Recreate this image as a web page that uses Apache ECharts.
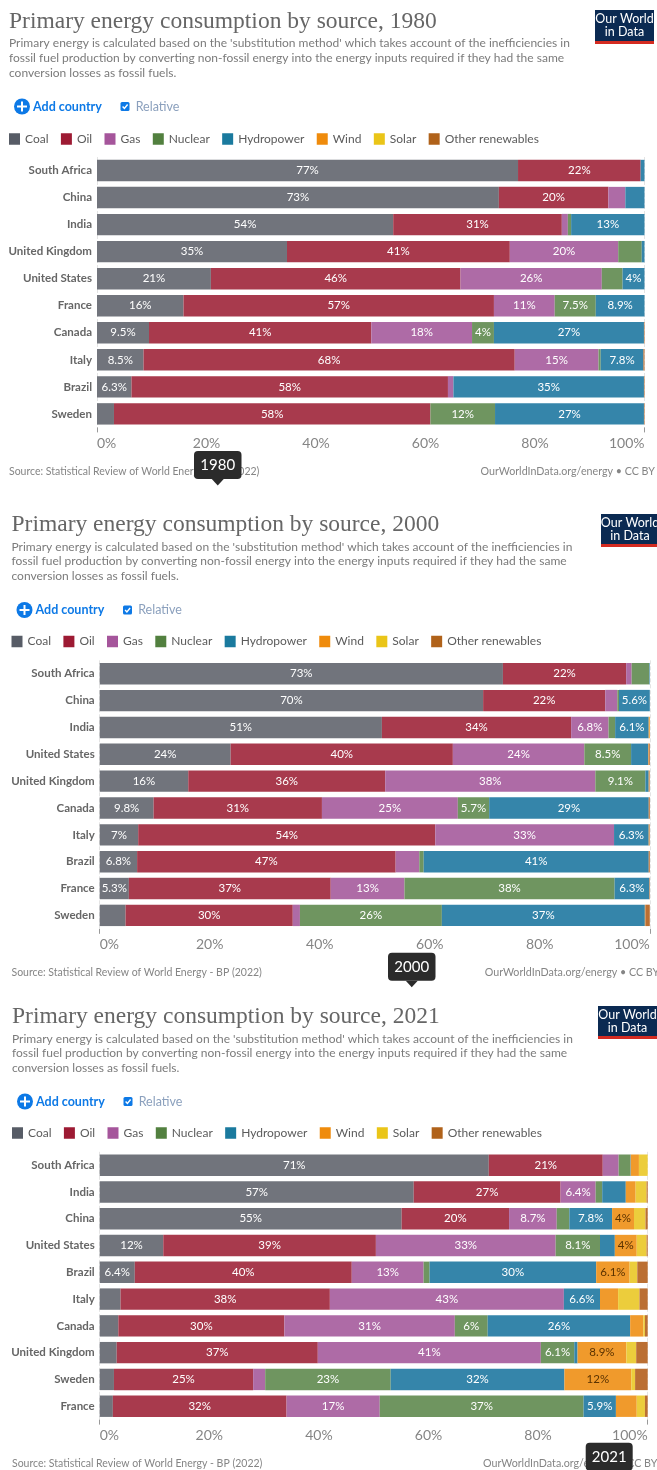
<!DOCTYPE html>
<html><head><meta charset="utf-8">
<style>html,body{margin:0;padding:0;background:#fff}#c{width:657px;height:1470px}</style>
<script src="https://cdn.jsdelivr.net/npm/echarts@6/dist/echarts.min.js"></script>
</head><body><div id="c"></div>
<script>
const sources = ['Coal','Oil','Gas','Nuclear','Hydropower','Wind','Solar','Other renewables'];
const tickValues = [0,20,40,60,80,100];

const countries1980 = ['South Africa','China','India','United Kingdom','United States','France','Canada','Italy','Brazil','Sweden'];
const coal1980    = [76.9,73.4,54.1,34.7,20.8,15.8,9.5,8.5,6.3,3.1];
const oil1980     = [22.4,20.0,30.8,40.7,45.6,56.7,40.6,67.8,57.8,57.8];
const gas1980     = [0,3.1,1.1,19.8,25.8,11.1,18.4,15.3,1.0,0];
const nuclear1980 = [0,0,0.6,4.3,3.8,7.5,4.0,0.4,0,11.8];
const hydro1980   = [0.7,3.5,13.4,0.5,4.0,8.9,27.4,7.8,34.8,27.2];
const wind1980    = [0,0,0,0,0,0,0,0,0,0];
const solar1980   = [0,0,0,0,0,0,0,0,0,0];
const other1980   = [0,0,0,0,0,0.1,0.1,0.2,0.1,0.1];

const countries2000 = ['South Africa','China','India','United States','United Kingdom','Canada','Italy','Brazil','France','Sweden'];
const coal2000    = [73.3,69.7,51.3,23.8,16.1,9.8,7.0,6.8,5.3,4.7];
const oil2000     = [22.4,22.2,34.4,40.4,35.8,30.6,54.0,47.0,36.7,30.4];
const gas2000     = [1.0,2.2,6.8,23.9,38.2,24.7,32.5,4.3,13.4,1.3];
const nuclear2000 = [3.2,0.3,1.2,8.5,9.1,5.7,0,0.8,38.2,25.8];
const hydro2000   = [0.1,5.6,6.1,3.1,0.6,29.0,6.3,40.9,6.3,36.9];
const wind2000    = [0,0,0.2,0.1,0.1,0,0.1,0,0,0.1];
const solar2000   = [0,0,0,0,0,0,0,0,0,0];
const other2000   = [0.1,0,0,0.2,0.1,0.2,0.2,0.2,0.1,0.8];

const countries2021 = ['South Africa','India','China','United States','Brazil','Italy','Canada','United Kingdom','Sweden','France'];
const coal2021    = [71.0,57.3,55.1,11.6,6.4,3.8,3.4,3.1,2.6,2.4];
const oil2021     = [20.8,26.8,19.6,38.8,39.6,38.2,30.3,36.7,25.4,31.7];
const gas2021     = [2.9,6.4,8.7,32.8,13.1,42.7,31.1,40.7,2.2,17.0];
const nuclear2021 = [2.1,1.2,2.3,8.1,1.1,0,6.0,6.1,22.9,37.2];
const hydro2021   = [0.1,4.3,7.8,2.7,30.4,6.6,26.0,0.6,31.7,5.9];
const wind2021    = [1.5,1.8,4.0,4.0,6.1,3.3,2.4,8.9,12.2,3.8];
const solar2021   = [1.6,2.0,2.1,1.8,1.4,3.9,0.3,1.8,0.7,1.5];
const other2021   = [0,0.2,0.4,0.2,1.9,1.5,0.5,2.1,2.3,0.5];

const panelData = [
  {year:'1980',cats:countries1980,vals:[coal1980,oil1980,gas1980,nuclear1980,hydro1980,wind1980,solar1980,other1980]},
  {year:'2000',cats:countries2000,vals:[coal2000,oil2000,gas2000,nuclear2000,hydro2000,wind2000,solar2000,other2000]},
  {year:'2021',cats:countries2021,vals:[coal2021,oil2021,gas2021,nuclear2021,hydro2021,wind2021,solar2021,other2021]}
];

const legendColors = ['#575c66','#9d1a33','#a5559b','#52803f','#1a7a9e','#ef8b0c','#eac518','#b0621a'];
const barColors    = ['#71747c','#a83a4d','#ae6ba6','#6f9560','#3585aa','#f09a2c','#eccd3c','#bb6f33'];
const labelColors  = ['#fff','#fff','#fff','#fff','#fff','#5a3200','#5a3200','#fff'];

const SUB = "Primary energy is calculated based on the 'substitution method' which takes account of the inefficiencies in\nfossil fuel production by converting non-fossil energy into the energy inputs required if they had the same\nconversion losses as fossil fuels.";
const SOURCE = 'Source: Statistical Review of World Energy - BP (2022)';
const CREDIT = 'OurWorldInData.org/energy • CC BY';
const FONT = 'Lato';

const layout = [
  {tx:9,  titleY:10,   subY:36,   ctrlY:106.5,legY:133,  gridL:97,  gridR:644.5,gridT:157,  gridH:270.4,srcY:472, crX:480.5, logo:[595,10,59,34], badge:[194,451,47.5,28,true]},
  {tx:11.5,titleY:513, subY:539.5,ctrlY:610,  legY:635.5,gridL:99.7,gridR:649.8,gridT:660.3,gridH:268.5,srcY:973, crX:484.7, logo:[601,514,58,33], badge:[388,952.7,47.5,28,true]},
  {tx:12, titleY:1005, subY:1031.5,ctrlY:1101.5,legY:1127,gridL:99.7,gridR:647.7,gridT:1151.8,gridH:267.8,srcY:1463.3,crX:483, logo:[598,1006,59,33], badge:[585.7,1442.7,47,28,false]}
];

function fmt(v){ let s = Number(v).toPrecision(2); if (s.indexOf('.')>=0) s = s.replace(/\.?0+$/,''); return s + '%'; }
function fits(v){ const s = fmt(v); return s.indexOf('.')>=0 ? v>=5 : v>=3.9; }

const grid=[],xAxis=[],yAxis=[],series=[],legend=[],title=[],graphic=[];
panelData.forEach((p,i)=>{
  const L = layout[i];
  grid.push({left:L.gridL,width:L.gridR-L.gridL,top:L.gridT,height:L.gridH,containLabel:false});
  xAxis.push({type:'value',gridIndex:i,min:0,max:100,interval:20,
    axisLine:{show:false},
    axisTick:{show:true,customValues:[tickValues[0],tickValues[5]],length:5,lineStyle:{color:'#999'}},
    splitLine:{show:true,lineStyle:{color:'#e4e4e4',type:'dashed',width:1}},
    axisLabel:{formatter:'{value}%',color:'#858585',fontFamily:FONT,fontSize:14,margin:9,alignMinLabel:'left',alignMaxLabel:'right',customValues:tickValues}});
  yAxis.push({type:'category',gridIndex:i,data:p.cats,inverse:true,
    axisLine:{show:false},axisTick:{show:false},
    axisLabel:{color:'#666',fontFamily:FONT,fontWeight:700,fontSize:11.5,margin:5}});
  sources.forEach((s,k)=>{
    series.push({type:'bar',name:s,xAxisIndex:i,yAxisIndex:i,stack:'p'+i,barWidth:21.4,
      data:p.vals[k],animation:false,
      itemStyle:{color:barColors[k]},
      label:{show:true,position:'inside',color:labelColors[k],fontFamily:FONT,fontSize:11.5,
        formatter:o=>fits(o.value)?fmt(o.value):''},
      emphasis:{disabled:true}});
  });
  legend.push({data:sources.map((s,k)=>({name:s,itemStyle:{color:legendColors[k]}})),
    left:L.tx,top:L.legY,orient:'horizontal',icon:'rect',itemWidth:11,itemHeight:11.5,itemGap:12.4,selectedMode:false,padding:0,
    textStyle:{color:'#5b5b5b',fontFamily:FONT,fontSize:12}});
  title.push({text:'Primary energy consumption by source, '+p.year,left:L.tx,top:L.titleY,
    padding:0,itemGap:0,
    textStyle:{fontFamily:'Liberation Serif',fontWeight:'normal',fontSize:23.5,color:'#666',lineHeight:24}});
  title.push({text:SUB,left:L.tx,top:L.subY,padding:0,
    textStyle:{fontFamily:FONT,fontWeight:'normal',fontSize:12,color:'#7b7b7b',lineHeight:14.7}});

  // Add country control
  const cx = L.tx+13;
  graphic.push({type:'circle',shape:{cx:cx,cy:L.ctrlY,r:8},style:{fill:'#0d79e6'}});
  graphic.push({type:'rect',shape:{x:cx-5,y:L.ctrlY-1,width:10,height:2},style:{fill:'#fff'}});
  graphic.push({type:'rect',shape:{x:cx-1,y:L.ctrlY-5,width:2,height:10},style:{fill:'#fff'}});
  graphic.push({type:'text',x:L.tx+24,y:L.ctrlY,style:{text:'Add country',fill:'#0d79e6',font:'700 12.5px '+FONT,textVerticalAlign:'middle'}});
  graphic.push({type:'rect',shape:{x:L.tx+111.5,y:L.ctrlY-4.5,width:9,height:9,r:1.5},style:{fill:'#0d79e6'}});
  graphic.push({type:'polyline',shape:{points:[[L.tx+113.6,L.ctrlY],[L.tx+115.4,L.ctrlY+2],[L.tx+118.6,L.ctrlY-2]]},style:{stroke:'#fff',lineWidth:1.4,fill:null}});
  graphic.push({type:'text',x:L.tx+126.7,y:L.ctrlY,style:{text:'Relative',fill:'#8ba0bd',font:'12.5px '+FONT,textVerticalAlign:'middle'}});

  // Footer
  graphic.push({type:'text',x:L.tx,y:L.srcY,style:{text:SOURCE,fill:'#858585',font:'10.5px '+FONT,textVerticalAlign:'middle'}});
  graphic.push({type:'text',x:L.crX,y:L.srcY,style:{text:CREDIT,fill:'#858585',font:'10.7px '+FONT,textVerticalAlign:'middle'}});

  // Logo
  const [lx,ly,lw,lh]=L.logo;
  graphic.push({type:'rect',shape:{x:lx,y:ly,width:lw,height:lh},style:{fill:'#0b2a52'}});
  graphic.push({type:'rect',shape:{x:lx,y:ly+lh-3,width:lw,height:3},style:{fill:'#d42b21'}});
  graphic.push({type:'text',x:lx+lw/2,y:ly+9,style:{text:'Our World',fill:'#fff',font:'12.5px '+FONT,textAlign:'center',textVerticalAlign:'middle'}});
  graphic.push({type:'text',x:lx+lw/2,y:ly+22,style:{text:'in Data',fill:'#fff',font:'12.5px '+FONT,textAlign:'center',textVerticalAlign:'middle'}});

  // Year badge
  const [bx,by,bw,bh,arrow]=L.badge;
  graphic.push({type:'rect',z:20,shape:{x:bx,y:by,width:bw,height:bh,r:4},style:{fill:'#2b2b2b'}});
  if(arrow) graphic.push({type:'polygon',z:20,shape:{points:[[bx+bw/2-6,by+bh],[bx+bw/2+6,by+bh],[bx+bw/2,by+bh+6.5]]},style:{fill:'#2b2b2b'}});
  graphic.push({type:'text',z:21,x:bx+bw/2,y:by+bh/2,style:{text:p.year,fill:'#fff',font:'15px '+FONT,textAlign:'center',textVerticalAlign:'middle'}});
});

const chart = echarts.init(document.getElementById('c'),null,{renderer:'canvas'});
chart.setOption({animation:false,backgroundColor:'#fff',title,legend,grid,xAxis,yAxis,series,graphic:{elements:graphic},tooltip:{show:false}});
</script></body></html>
